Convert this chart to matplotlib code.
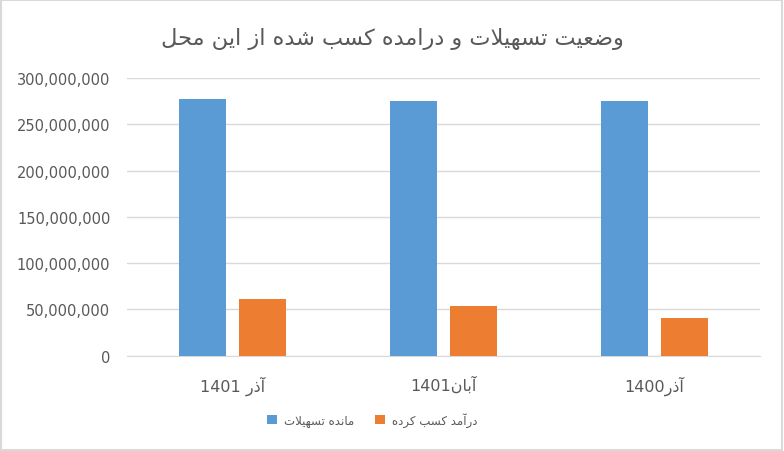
import re

import matplotlib

matplotlib.use("Agg")
import matplotlib.pyplot as plt
import numpy as np
from matplotlib.patches import Rectangle
from matplotlib.ticker import FuncFormatter


TITLE = "وضعیت تسهیلات و درامده کسب شده از این محل"
CATEGORIES = ["آذر 1401", "آبان1401", "آذر1400"]
SERIES_NAMES = ["مانده تسهیلات", "درآمد کسب کرده"]
BALANCE = [277_000_000, 274_800_000, 274_800_000]
INCOME = [61_200_000, 53_600_000, 40_700_000]
Y_TICKS = [0, 50_000_000, 100_000_000, 150_000_000, 200_000_000, 250_000_000, 300_000_000]

BLUE = "#5b9bd5"
ORANGE = "#ed7d31"
TEXT_GREY = "#595959"
GRID_GREY = "#d9d9d9"

# matplotlib has no Arabic shaping, so map letters to presentation forms by hand
# (isolated, final, initial, medial); right-joining letters only have two forms
FORMS = {
    "ا": (0xFE8D, 0xFE8E),
    "آ": (0xFE81, 0xFE82),
    "د": (0xFEA9, 0xFEAA),
    "ذ": (0xFEAB, 0xFEAC),
    "ر": (0xFEAD, 0xFEAE),
    "ز": (0xFEAF, 0xFEB0),
    "و": (0xFEED, 0xFEEE),
    "ب": (0xFE8F, 0xFE90, 0xFE91, 0xFE92),
    "ت": (0xFE95, 0xFE96, 0xFE97, 0xFE98),
    "ح": (0xFEA1, 0xFEA2, 0xFEA3, 0xFEA4),
    "س": (0xFEB1, 0xFEB2, 0xFEB3, 0xFEB4),
    "ش": (0xFEB5, 0xFEB6, 0xFEB7, 0xFEB8),
    "ض": (0xFEBD, 0xFEBE, 0xFEBF, 0xFEC0),
    "ع": (0xFEC9, 0xFECA, 0xFECB, 0xFECC),
    "ک": (0xFED9, 0xFEDA, 0xFEDB, 0xFEDC),
    "ل": (0xFEDD, 0xFEDE, 0xFEDF, 0xFEE0),
    "م": (0xFEE1, 0xFEE2, 0xFEE3, 0xFEE4),
    "ن": (0xFEE5, 0xFEE6, 0xFEE7, 0xFEE8),
    "ه": (0xFEE9, 0xFEEA, 0xFEEB, 0xFEEC),
    "ی": (0xFEEF, 0xFEF0, 0xFEF3, 0xFEF4),
}
LAM_ALEF = {"ا": (0xFEFB, 0xFEFC), "آ": (0xFEF5, 0xFEF6)}


def joins_left(ch):
    return ch in FORMS and len(FORMS[ch]) == 4


def shape_word(text):
    out = []
    i = 0
    while i < len(text):
        ch = text[i]
        if ch not in FORMS:
            out.append(ch)
            i += 1
            continue
        prev_join = i > 0 and joins_left(text[i - 1])
        nxt = text[i + 1] if i + 1 < len(text) else ""
        if ch == "ل" and nxt in LAM_ALEF:
            out.append(chr(LAM_ALEF[nxt][1 if prev_join else 0]))
            i += 2
            continue
        forms = FORMS[ch]
        next_join = len(forms) == 4 and nxt in FORMS
        if len(forms) == 2:
            out.append(chr(forms[1 if prev_join else 0]))
        elif prev_join and next_join:
            out.append(chr(forms[3]))
        elif next_join:
            out.append(chr(forms[2]))
        elif prev_join:
            out.append(chr(forms[1]))
        else:
            out.append(chr(forms[0]))
        i += 1
    return "".join(out)


def rtl(text):
    shaped = shape_word(text)
    runs = re.findall(r"[0-9]+|[^0-9]+", shaped)
    runs = [r if r[0].isdigit() else r[::-1] for r in runs]
    return "".join(reversed(runs))


plt.rcParams["font.family"] = ["DejaVu Sans"]

fig = plt.figure(figsize=(7.84, 4.52), dpi=100)
ax = fig.add_axes([0.162, 0.211, 0.807, 0.614])

x = np.arange(len(CATEGORIES))
bar_w = 0.223
offset = 0.142
ax.bar(x - offset, BALANCE, bar_w, color=BLUE, label=rtl(SERIES_NAMES[0]), zorder=3)
ax.bar(x + offset, INCOME, bar_w, color=ORANGE, label=rtl(SERIES_NAMES[1]), zorder=3)

ax.set_xlim(-0.5, len(CATEGORIES) - 0.5)
ax.set_ylim(0, 300_000_000)
ax.set_yticks(Y_TICKS)
ax.yaxis.set_major_formatter(FuncFormatter(lambda v, _: f"{int(v):,}"))
ax.set_xticks(x)
ax.set_xticklabels([rtl(c) for c in CATEGORIES])

ax.grid(axis="y", color=GRID_GREY, linewidth=1, zorder=0)
ax.tick_params(length=0, colors=TEXT_GREY, labelsize=10.5)
ax.tick_params(axis="x", pad=14, labelsize=11.5)
ax.tick_params(axis="y", pad=12)
for side in ["top", "right", "left"]:
    ax.spines[side].set_visible(False)
ax.spines["bottom"].set_color(GRID_GREY)

fig.text(0.5, 0.914, rtl(TITLE), ha="center", va="center", fontsize=16.2, color=TEXT_GREY)

fig.legend(
    loc="center",
    bbox_to_anchor=(0.475, 0.07),
    ncol=2,
    frameon=False,
    fontsize=8.5,
    labelcolor=TEXT_GREY,
    handlelength=0.8,
    handleheight=0.8,
    handletextpad=0.6,
    columnspacing=1.8,
)

fig.add_artist(
    Rectangle((0.001, 0.002), 0.997, 0.996, transform=fig.transFigure,
              fill=False, edgecolor=GRID_GREY, linewidth=1.5)
)

fig.savefig("out.png", dpi=100)
